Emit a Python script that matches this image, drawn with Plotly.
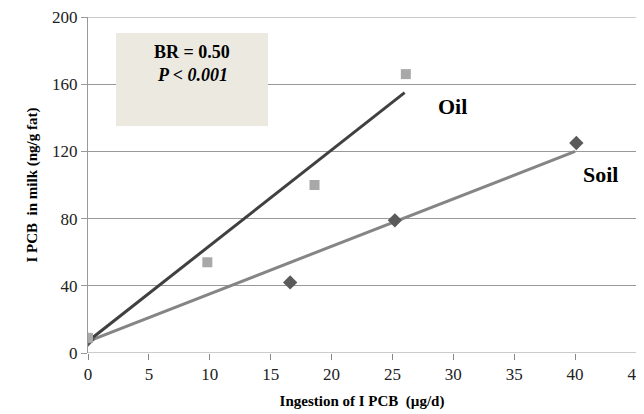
import plotly.graph_objects as go

oil_x = [0, 9.8, 18.6, 26.1]
oil_y = [9, 54, 100, 166]
soil_x = [0, 16.6, 25.2, 40.1]
soil_y = [8, 42, 79, 125]
oil_fit_x = [0, 26]
oil_fit_y = [7, 155]
soil_fit_x = [0, 40]
soil_fit_y = [7, 120]
x_ticks = [0, 5, 10, 15, 20, 25, 30, 35, 40, 45]
y_ticks = [0, 40, 80, 120, 160, 200]

font = "Liberation Serif"
# page body has an 8px margin; size and margins compensate so the plot sits where the reference has it
W, H = 636, 406
L, R, T, B = 80, 8, 9, 61
fig = go.Figure()
fig.add_trace(go.Scatter(x=soil_fit_x, y=soil_fit_y, mode="lines",
                         line=dict(color="#858585", width=3), showlegend=False))
fig.add_trace(go.Scatter(x=oil_fit_x, y=oil_fit_y, mode="lines",
                         line=dict(color="#404040", width=3), showlegend=False))
fig.add_trace(go.Scatter(x=soil_x, y=soil_y, mode="markers",
                         marker=dict(symbol="diamond", size=11, color="#5a5a5a"), showlegend=False))
fig.add_trace(go.Scatter(x=oil_x, y=oil_y, mode="markers",
                         marker=dict(symbol="square", size=10, color="#a8a8a8"), showlegend=False))

fig.add_shape(type="rect", xref="paper", yref="paper",
              x0=(116-88)/548, x1=(268-88)/548, y0=(353-126)/336, y1=(353-33)/336,
              fillcolor="#ECEAE0", line=dict(width=0), layer="above")
fig.add_annotation(xref="paper", yref="paper", x=(192-88)/548, y=(353-52)/336,
                   xanchor="center", yanchor="middle",
                   text="<b>BR = 0.50</b>", showarrow=False,
                   font=dict(family=font, size=18, color="#000"))
fig.add_annotation(xref="paper", yref="paper", x=(192-88)/548, y=(353-75)/336,
                   xanchor="center", yanchor="middle",
                   text="<b><i>P < 0.001</i></b>", showarrow=False,
                   font=dict(family=font, size=18, color="#000"))
fig.add_annotation(x=29.9, y=146.5, text="<b>Oil</b>", showarrow=False,
                   xanchor="center", yanchor="middle",
                   font=dict(family=font, size=22, color="#000"))
fig.add_annotation(x=42.1, y=106, text="<b>Soil</b>", showarrow=False,
                   xanchor="center", yanchor="middle",
                   font=dict(family=font, size=22, color="#000"))

fig.update_layout(
    width=W, height=H,
    margin=dict(l=L, r=R, t=T, b=B, autoexpand=False),
    plot_bgcolor="white", paper_bgcolor="white",
    font=dict(family=font, size=16, color="#222"),
    xaxis=dict(range=[0, 45], tickvals=x_ticks, showgrid=False, zeroline=False,
               showline=False, ticks="outside", tickcolor="#888", ticklen=6, automargin=False,
               ticklabeloverflow="allow",
               tickfont=dict(family=font, size=17),
               title=dict(text="<b>Ingestion of I PCB  (µg/d)</b>", font=dict(family=font, size=15, color="#000"), standoff=12)),
    yaxis=dict(range=[0, 200], tickvals=y_ticks, showgrid=True, gridcolor="#999", gridwidth=1,
               zeroline=False, showline=True, linecolor="#999", linewidth=1, automargin=False,
               ticklabeloverflow="allow",
               ticks="outside", tickcolor="#999", ticklen=6,
               tickfont=dict(family=font, size=17),
               title=dict(text="<b>I PCB  in milk (ng/g fat)</b>", font=dict(family=font, size=15, color="#000"), standoff=10)),
)
for yv in (0, 200):
    fig.add_shape(type="line", xref="paper", yref="y", x0=0, x1=1, y0=yv, y1=yv,
                  line=dict(color="#999", width=1))
fig.write_html("out.html")
